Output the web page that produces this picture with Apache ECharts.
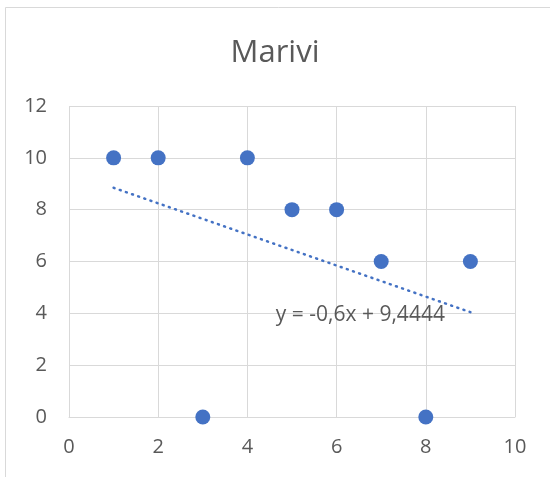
<!DOCTYPE html>
<html>
<head>
<meta charset="utf-8">
<script src="https://cdn.jsdelivr.net/npm/echarts@6/dist/echarts.min.js"></script>
<style>html,body{margin:0;padding:0;background:#fff}#c{width:550px;height:477px}</style>
</head>
<body>
<div id="c"></div>
<script>
var titleText = 'Marivi';
var xValues = [1, 2, 3, 4, 5, 6, 7, 8, 9];
var yValues = [10, 10, 0, 10, 8, 8, 6, 0, 6];
var trendSlope = -0.6;
var trendIntercept = 9.4444;
var trendLabel = 'y = -0,6x + 9,4444';
var xStart = 1, xEnd = 9;

var points = xValues.map(function (x, i) { return [x, yValues[i]]; });
var trendData = [
  [xStart, trendSlope * xStart + trendIntercept],
  [xEnd, trendSlope * xEnd + trendIntercept]
];

var chart = echarts.init(document.getElementById('c'), null, { renderer: 'canvas' });
var font = 'Open Sans';
chart.setOption({
  animation: false,
  backgroundColor: '#ffffff',
  graphic: [{
    type: 'rect', silent: true, z: -10,
    shape: { x: 5.5, y: 7.5, width: 700, height: 700 },
    style: { fill: 'none', stroke: '#d9d9d9', lineWidth: 1 }
  }],
  title: {
    text: titleText, left: 'center', top: 33,
    textStyle: { color: '#595959', fontSize: 31, fontWeight: 'normal', fontFamily: font }
  },
  grid: { left: 69, right: 35, top: 106, bottom: 60, containLabel: false },
  xAxis: {
    type: 'value', min: 0, max: 10, interval: 2,
    axisLine: { show: true, lineStyle: { color: '#d9d9d9', width: 1 } },
    axisTick: { show: false },
    axisLabel: { color: '#595959', fontSize: 20, fontFamily: font, margin: 20 },
    splitLine: { show: true, lineStyle: { color: '#d9d9d9', width: 1 } }
  },
  yAxis: {
    type: 'value', min: 0, max: 12, interval: 2,
    axisLine: { show: false },
    axisTick: { show: false },
    axisLabel: { color: '#595959', fontSize: 20, fontFamily: font, margin: 22 },
    splitLine: { show: true, lineStyle: { color: '#d9d9d9', width: 1 } }
  },
  series: [
    {
      type: 'scatter', data: points, symbolSize: 15,
      itemStyle: { color: '#4472c4', opacity: 1 }, z: 3
    },
    {
      type: 'line', data: trendData, showSymbol: false, symbol: 'none',
      lineStyle: { color: '#4472c4', width: 2.5, type: [1, 5.5], cap: 'round' },
      z: 2,
      markPoint: {
        silent: true,
        symbol: 'circle', symbolSize: 1,
        itemStyle: { color: 'rgba(0,0,0,0)' },
        label: { show: true, position: 'left', distance: 25, offset: [0, 3],
          formatter: trendLabel, color: '#595959', fontSize: 21, fontFamily: font },
        data: [{ coord: trendData[1] }]
      }
    }
  ]
});
</script>
</body>
</html>
